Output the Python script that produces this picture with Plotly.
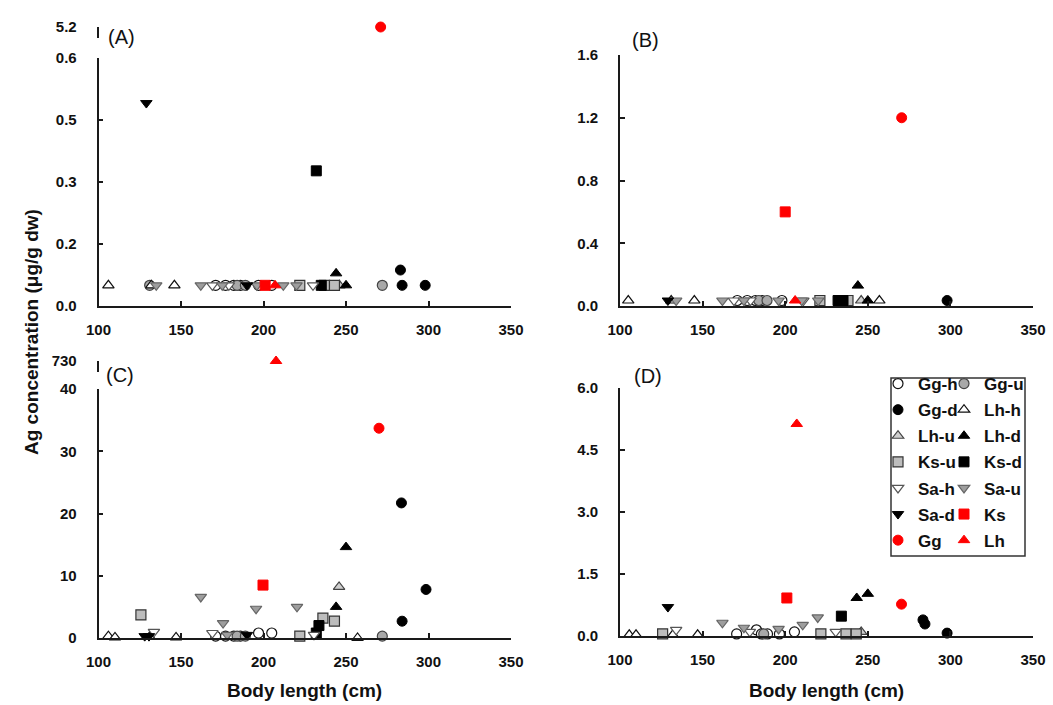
import plotly.graph_objects as go

W, H = 1053, 705
FONT = "Liberation Sans, Arial, sans-serif"

SERIES = ["Gg-h", "Gg-u", "Gg-d", "Lh-h", "Lh-u", "Lh-d", "Ks-u", "Ks-d",
          "Sa-h", "Sa-u", "Sa-d", "Ks", "Gg", "Lh"]

X_TICKS = [100, 150, 200, 250, 300, 350]

# ---------------- Panel (A) ----------------
A_DATA = {
    "Gg-h": ([171, 177, 182, 186, 197, 205], [0.05, 0.05, 0.05, 0.05, 0.05, 0.05]),
    "Gg-u": ([131, 184, 189, 272], [0.05, 0.05, 0.05, 0.05]),
    "Gg-d": ([283, 284, 298], [0.087, 0.05, 0.05]),
    "Lh-h": ([106, 132, 146], [0.05, 0.05, 0.05]),
    "Lh-u": ([246], [0.05]),
    "Lh-d": ([244, 250], [0.079, 0.05]),
    "Ks-u": ([222, 237, 243], [0.05, 0.05, 0.05]),
    "Ks-d": ([232, 235], [0.327, 0.05]),
    "Sa-h": ([169, 179, 230], [0.05, 0.05, 0.05]),
    "Sa-u": ([135, 162, 175, 196, 212, 220], [0.05, 0.05, 0.05, 0.05, 0.05, 0.05]),
    "Sa-d": ([129, 190], [0.491, 0.05]),
    "Ks": ([201], [0.05]),
    "Gg": ([271], [5.2]),
    "Lh": ([207], [0.05]),
}
A_YTICKS = [0, 0.15, 0.3, 0.45, 0.6]
A_YLABELS = ["0.0", "0.2", "0.3", "0.5", "0.6"]
A_BREAK_TICK = [5.2]

# ---------------- Panel (B) ----------------
B_DATA = {
    "Gg-h": ([171, 177, 182, 186, 198], [0.035, 0.035, 0.035, 0.035, 0.035]),
    "Gg-u": ([184, 189], [0.035, 0.035]),
    "Gg-d": ([298], [0.035]),
    "Lh-h": ([105, 131, 145, 257], [0.035, 0.035, 0.035, 0.035]),
    "Lh-u": ([246], [0.035]),
    "Lh-d": ([244, 250], [0.13, 0.035]),
    "Ks-u": ([221, 238], [0.035, 0.035]),
    "Ks-d": ([232, 235], [0.035, 0.035]),
    "Sa-h": ([169, 179, 211], [0.035, 0.035, 0.035]),
    "Sa-u": ([134, 162, 175, 196, 210, 220], [0.035, 0.035, 0.035, 0.035, 0.035, 0.035]),
    "Sa-d": ([129], [0.035]),
    "Ks": ([200], [0.6]),
    "Gg": ([270.5], [1.2]),
    "Lh": ([206], [0.035]),
}
B_YTICKS = [0, 0.4, 0.8, 1.2, 1.6]

# ---------------- Panel (C) ----------------
C_DATA = {
    "Gg-h": ([171, 177, 182, 186, 197, 205], [0.3, 0.3, 0.3, 0.3, 0.8, 0.8]),
    "Gg-u": ([184, 189, 272], [0.3, 0.3, 0.3]),
    "Gg-d": ([283.6, 284, 298.5], [21.7, 2.7, 7.8]),
    "Lh-h": ([106, 110, 131, 147, 257], [0.3, 0.1, 0.2, 0.1, 0.0]),
    "Lh-u": ([245.8], [8.2]),
    "Lh-d": ([244, 250], [5.0, 14.6]),
    "Ks-u": ([125.7, 222, 236, 243], [3.7, 0.3, 3.2, 2.7]),
    "Ks-d": ([232, 233.6], [0.8, 2.0]),
    "Sa-h": ([133.6, 169, 230.6], [1.0, 0.8, 0.5]),
    "Sa-u": ([162, 175.5, 178, 195.5, 220.3], [6.6, 2.4, 0.5, 4.7, 5.0]),
    "Sa-d": ([128, 130.6, 190], [0.3, 0.3, 0.5]),
    "Ks": ([199.7], [8.5]),
    "Gg": ([270], [33.7]),
    "Lh": ([207.6], [730]),
}
C_YTICKS = [0, 10, 20, 30, 40]
C_BREAK_TICK = [730]

# ---------------- Panel (D) ----------------
D_DATA = {
    "Gg-h": ([170.6, 182.6, 185.6, 189.3, 196.5, 205.6], [0.05, 0.15, 0.05, 0.05, 0.05, 0.1]),
    "Gg-u": ([187], [0.05]),
    "Gg-d": ([283.4, 284.6, 298], [0.39, 0.29, 0.07]),
    "Lh-h": ([105.6, 109.7, 132, 147], [0.03, 0.03, 0.03, 0.03]),
    "Lh-u": ([246], [0.1]),
    "Lh-d": ([243.3, 250], [0.92, 1.02]),
    "Ks-u": ([125.8, 221.6, 236.8, 243], [0.05, 0.05, 0.05, 0.05]),
    "Ks-d": ([234], [0.48]),
    "Sa-h": ([134, 178.6, 230.6], [0.15, 0.1, 0.1]),
    "Sa-u": ([162, 175, 196, 210.6, 219.7], [0.32, 0.2, 0.17, 0.27, 0.45]),
    "Sa-d": ([129], [0.7]),
    "Ks": ([201], [0.92]),
    "Gg": ([270.4], [0.77]),
    "Lh": ([207], [5.13]),
}
D_YTICKS = [0, 1.5, 3.0, 4.5, 6.0]

# ---------------- marker styles ----------------
STYLE = {
    "Gg-h": dict(symbol="circle", size=10, color="white", line=dict(color="#111", width=1.2)),
    "Gg-u": dict(symbol="circle", size=10, color="#a9a9a9", line=dict(color="#444", width=1.2)),
    "Gg-d": dict(symbol="circle", size=10, color="#000", line=dict(color="#000", width=1)),
    "Lh-h": dict(symbol="triangle-up", size=10, color="white", line=dict(color="#111", width=1.2)),
    "Lh-u": dict(symbol="triangle-up", size=10, color="#cfcfcf", line=dict(color="#444", width=1.2)),
    "Lh-d": dict(symbol="triangle-up", size=10, color="#000", line=dict(color="#000", width=1)),
    "Ks-u": dict(symbol="square", size=10, color="#bdbdbd", line=dict(color="#333", width=1.2)),
    "Ks-d": dict(symbol="square", size=10, color="#000", line=dict(color="#000", width=1)),
    "Sa-h": dict(symbol="triangle-down", size=10, color="white", line=dict(color="#555", width=1.2)),
    "Sa-u": dict(symbol="triangle-down", size=10, color="#9e9e9e", line=dict(color="#666", width=1.2)),
    "Sa-d": dict(symbol="triangle-down", size=10, color="#000", line=dict(color="#000", width=1)),
    "Ks": dict(symbol="square", size=10, color="#ff0000", line=dict(color="#ff0000", width=1)),
    "Gg": dict(symbol="circle", size=10, color="#ff0000", line=dict(color="#ff0000", width=1)),
    "Lh": dict(symbol="triangle-up", size=10, color="#ff0000", line=dict(color="#ff0000", width=1)),
}


def fx(p):
    return p / W


def fy(p):
    return 1 - p / H


# panel geometry in pixels: (x_left, x_right), (y_bottom, y_top)
PANELS = [
    dict(name="(A)", data=A_DATA, px=(98.5, 511), py=(306, 58), yr=[0, 0.6],
         ytv=A_YTICKS, ytt=A_YLABELS, brk=dict(tv=A_BREAK_TICK, rng=[5.0, 5.2], py=(38, 27), ax=5),
         lab=(106, 37)),
    dict(name="(B)", data=B_DATA, px=(620, 1033), py=(306, 55), yr=[0, 1.6],
         ytv=B_YTICKS, ytt=[f"{v:.1f}" for v in B_YTICKS], brk=None, lab=(630, 40)),
    dict(name="(C)", data=C_DATA, px=(98.5, 511), py=(638, 389), yr=[0, 40],
         ytv=C_YTICKS, ytt=[str(v) for v in C_YTICKS], brk=dict(tv=C_BREAK_TICK, rng=[700, 730], py=(372, 361), ax=6),
         lab=(104, 375)),
    dict(name="(D)", data=D_DATA, px=(620, 1033), py=(636, 388), yr=[0, 6],
         ytv=D_YTICKS, ytt=[f"{v:.1f}" for v in D_YTICKS], brk=None, lab=(632, 376)),
]

LEFT_COL = SERIES[0::2]

fig = go.Figure()
layout = {}
AXCOL = "#1a1a1a"
tickfont = dict(family=FONT, size=15, color="#111", weight="bold")
shown = set()

for i, p in enumerate(PANELS, start=1):
    xs = "" if i == 1 else str(i)
    layout[f"xaxis{xs}"] = dict(
        domain=[fx(p["px"][0]), fx(p["px"][1])], range=[100, 350], anchor=f"y{xs}",
        showline=True, linecolor=AXCOL, linewidth=1.6, ticks="inside", ticklen=5,
        tickcolor=AXCOL, tickwidth=1.5, tickvals=X_TICKS, ticktext=[str(v) for v in X_TICKS],
        tickfont=tickfont, showgrid=False, zeroline=False, ticklabelstandoff=9, automargin=False,
    )
    layout[f"yaxis{xs}"] = dict(
        domain=[fy(p["py"][0]), fy(p["py"][1])], range=p["yr"], anchor=f"x{xs}",
        showline=True, linecolor=AXCOL, linewidth=1.6, ticks="inside", ticklen=5,
        tickcolor=AXCOL, tickwidth=1.5, tickvals=p["ytv"], ticktext=p["ytt"],
        tickfont=tickfont, showgrid=False, zeroline=False, ticklabelstandoff=17, automargin=False,
    )
    brk = p["brk"]
    if brk:
        layout[f"yaxis{brk['ax']}"] = dict(
            domain=[fy(brk["py"][0]), fy(brk["py"][1])], range=brk["rng"], anchor=f"x{xs}",
            showline=True, linecolor=AXCOL, linewidth=1.6, ticks="inside", ticklen=5,
            tickcolor=AXCOL, tickwidth=1.5, tickvals=brk["tv"], ticktext=[str(v) for v in brk["tv"]],
            tickfont=tickfont, showgrid=False, zeroline=False, ticklabelstandoff=17, automargin=False,
        )
    for s in SERIES:
        if s not in p["data"]:
            continue
        xv, yv = p["data"][s]
        main_x = [x for x, y in zip(xv, yv) if y <= p["yr"][1]]
        main_y = [y for y in yv if y <= p["yr"][1]]
        hi_x = [x for x, y in zip(xv, yv) if y > p["yr"][1]]
        hi_y = [y for y in yv if y > p["yr"][1]]
        st = STYLE[s]
        marker = dict(symbol=st["symbol"], size=st["size"], color=st["color"], line=st["line"])
        show = s not in shown
        shown.add(s)
        leg = "legend" if s in LEFT_COL else "legend2"
        if main_x:
            fig.add_trace(go.Scatter(
                x=main_x, y=main_y, mode="markers", marker=marker, name=s,
                xaxis=f"x{xs}", yaxis=f"y{xs}", cliponaxis=False,
                showlegend=show, legend=leg, legendrank=SERIES.index(s) + 1, legendgroup=s,
            ))
            show = False
        if hi_x:
            fig.add_trace(go.Scatter(
                x=hi_x, y=hi_y, mode="markers", marker=marker, name=s,
                xaxis=f"x{xs}", yaxis=f"y{brk['ax']}", cliponaxis=False,
                showlegend=show, legend=leg, legendrank=SERIES.index(s) + 1, legendgroup=s,
            ))

annotations = []
for p in PANELS:
    annotations.append(dict(
        text=p["name"], x=fx(p["lab"][0]), y=fy(p["lab"][1]), xref="paper", yref="paper",
        xanchor="left", yanchor="middle", showarrow=False,
        font=dict(family=FONT, size=20, color="#111"),
    ))
for cx in [(98.5 + 511) / 2, (620 + 1033) / 2]:
    annotations.append(dict(
        text="Body length (cm)", x=fx(cx), y=fy(690), xref="paper", yref="paper",
        xanchor="center", yanchor="middle", showarrow=False,
        font=dict(family=FONT, size=19, color="#111", weight="bold"),
    ))
annotations.append(dict(
    text="Ag concentration (μg/g dw)", x=fx(31), y=fy(332), xref="paper", yref="paper",
    xanchor="center", yanchor="middle", showarrow=False, textangle=-90,
    font=dict(family=FONT, size=19, color="#111", weight="bold"),
))

legend_common = dict(
    orientation="v", xanchor="left", yanchor="top", bgcolor="rgba(0,0,0,0)",
    borderwidth=0, font=dict(family=FONT, size=17, color="#111", weight="bold"),
    traceorder="grouped", tracegroupgap=1, itemsizing="trace",
)

fig.update_layout(
    width=W, height=H, margin=dict(l=0, r=0, t=0, b=0, autoexpand=False),
    paper_bgcolor="white", plot_bgcolor="white",
    legend=dict(x=fx(878), y=fy(366), **legend_common),
    legend2=dict(x=fx(944), y=fy(366), **legend_common),
    annotations=annotations,
    shapes=[dict(type="rect", xref="paper", yref="paper", x0=fx(891), x1=fx(1025),
                 y0=fy(556), y1=fy(378), line=dict(color="#333", width=1.5))],
    **layout,
)

fig.write_html(
    "out.html",
    config={"displayModeBar": False},
    post_script="document.body.style.margin='0px';document.body.style.overflow='hidden';",
)
